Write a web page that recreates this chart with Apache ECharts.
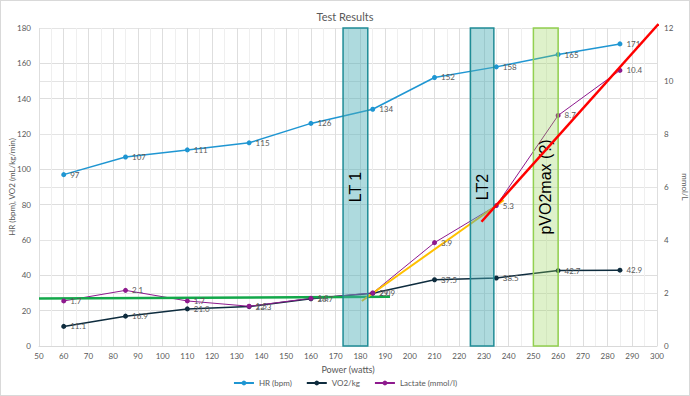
<!DOCTYPE html>
<html>
<head>
<meta charset="utf-8">
<script src="https://cdn.jsdelivr.net/npm/echarts@6/dist/echarts.min.js"></script>
<style>
  html, body { margin: 0; padding: 0; background: #fff; }
  #chart { width: 688px; height: 394px; border: 1px solid #d9d9d9; }
</style>
</head>
<body>
<div id="chart"></div>
<script>
// test steps
const power = [60, 85, 110, 135, 160, 185, 210, 235, 260, 285];
const hr = [97, 107, 111, 115, 126, 134, 152, 158, 165, 171];
const vo2 = [11.1, 16.9, 21.0, 22.3, 26.7, 29.9, 37.5, 38.5, 42.7, 42.9];
const lactate = [1.7, 2.1, 1.7, 1.5, 1.8, 2.0, 3.9, 5.3, 8.7, 10.4];

// hand drawn trend lines (power, mmol/L)
const baseLine = [[50, 1.79], [192, 1.86]];
const lt2Line = [[180.6, 1.70], [238, 5.5]];
const maxLine = [[229, 4.69], [300.6, 12.15]];

// shaded zones (power from, power to)
const zones = [
  { name: 'LT 1', from: 173, to: 183, fill: 'rgba(75,172,182,0.45)', border: '#1f8c96' },
  { name: 'LT2', from: 224.5, to: 234, fill: 'rgba(75,172,182,0.45)', border: '#1f8c96' },
  { name: 'pVO2max (?)', from: 250, to: 260, fill: 'rgba(146,208,80,0.3)', border: '#92d050' }
];

const pairs = (ys) => power.map((x, i) => [x, ys[i]]);
const txt = '#595959';
const font = 'Lato';

const chart = echarts.init(document.getElementById('chart'), null, { renderer: 'svg' });

function dataSeries(name, ys, color, width, axis, decimals) {
  return {
    name, type: 'line', yAxisIndex: axis, data: pairs(ys),
    symbol: 'circle', symbolSize: 5, z: 2,
    itemStyle: { color },
    lineStyle: { color, width },
    label: {
      show: true, position: 'right', distance: 4,
      fontSize: 8, color: txt, fontFamily: font,
      formatter: (p) => p.value[1].toFixed(decimals)
    }
  };
}

function trend(data, color, width, z) {
  return {
    type: 'line', yAxisIndex: 1, data, symbol: 'none', silent: true,
    clip: false, z, lineStyle: { color, width }
  };
}

const hrSeries = dataSeries('HR (bpm)', hr, '#1f96d2', 1.5, 0, 0);
hrSeries.markArea = {
  z: 3, silent: true,
  label: {
    show: true, position: 'inside', rotate: 90,
    fontSize: 16, color: '#000', fontFamily: 'Liberation Sans'
  },
  data: zones.map((zn) => [
    { name: zn.name, xAxis: zn.from, yAxis: 0,
      itemStyle: { color: zn.fill, borderColor: zn.border, borderWidth: 1.5 } },
    { xAxis: zn.to, yAxis: 180 }
  ])
};

chart.setOption({
  animation: false,
  textStyle: { fontFamily: font },
  title: {
    text: 'Test Results', left: 'center', top: 5,
    textStyle: { fontSize: 11, fontWeight: 'normal', color: txt, fontFamily: font }
  },
  grid: { left: 38, right: 32, top: 27, bottom: 49, outerBoundsMode: 'none' },
  legend: {
    bottom: 3, itemWidth: 20, itemHeight: 6, itemGap: 14,
    data: ['HR (bpm)', 'VO2/kg', 'Lactate (mmol/l)'],
    textStyle: { fontSize: 8, color: txt, fontFamily: font }
  },
  xAxis: {
    type: 'value', min: 50, max: 300, interval: 10,
    name: 'Power (watts)', nameLocation: 'middle', nameGap: 19,
    nameMoveOverlap: false,
    nameTextStyle: { fontSize: 9, color: txt },
    axisLine: { lineStyle: { color: '#d9d9d9' } },
    axisTick: { show: false },
    axisLabel: { fontSize: 8, color: txt, margin: 6 },
    splitLine: { lineStyle: { color: '#dedede' } },
    minorTick: { show: false, splitNumber: 2 },
    minorSplitLine: { show: true, lineStyle: { color: '#efefef' } }
  },
  yAxis: [
    {
      type: 'value', min: 0, max: 180, interval: 20,
      name: 'HR (bpm), VO2 (mL/kg/min)', nameLocation: 'middle', nameGap: 23,
      nameMoveOverlap: false,
      nameTextStyle: { fontSize: 8, color: txt },
      axisLine: { show: false }, axisTick: { show: false },
      axisLabel: { fontSize: 8, color: txt, margin: 8 },
      splitLine: { lineStyle: { color: '#dedede' } }
    },
    {
      type: 'value', min: 0, max: 12, interval: 2, position: 'right',
      name: 'mmol/L', nameLocation: 'middle', nameGap: 24, nameRotate: -90,
      nameMoveOverlap: false,
      nameTextStyle: { fontSize: 8, color: txt },
      axisLine: { show: false }, axisTick: { show: false },
      axisLabel: { fontSize: 8, color: txt, margin: 7 },
      splitLine: { lineStyle: { color: '#e4e4e4' } }
    }
  ],
  series: [
    hrSeries,
    dataSeries('VO2/kg', vo2, '#0e2c3e', 1.5, 0, 1),
    dataSeries('Lactate (mmol/l)', lactate, '#8e1a8e', 1, 1, 1),
    trend(baseLine, '#13a84a', 2.5, 2),
    trend(lt2Line, '#ffc000', 2, 2),
    trend(maxLine, '#ff0000', 2.5, 4)
  ]
});
</script>
</body>
</html>
